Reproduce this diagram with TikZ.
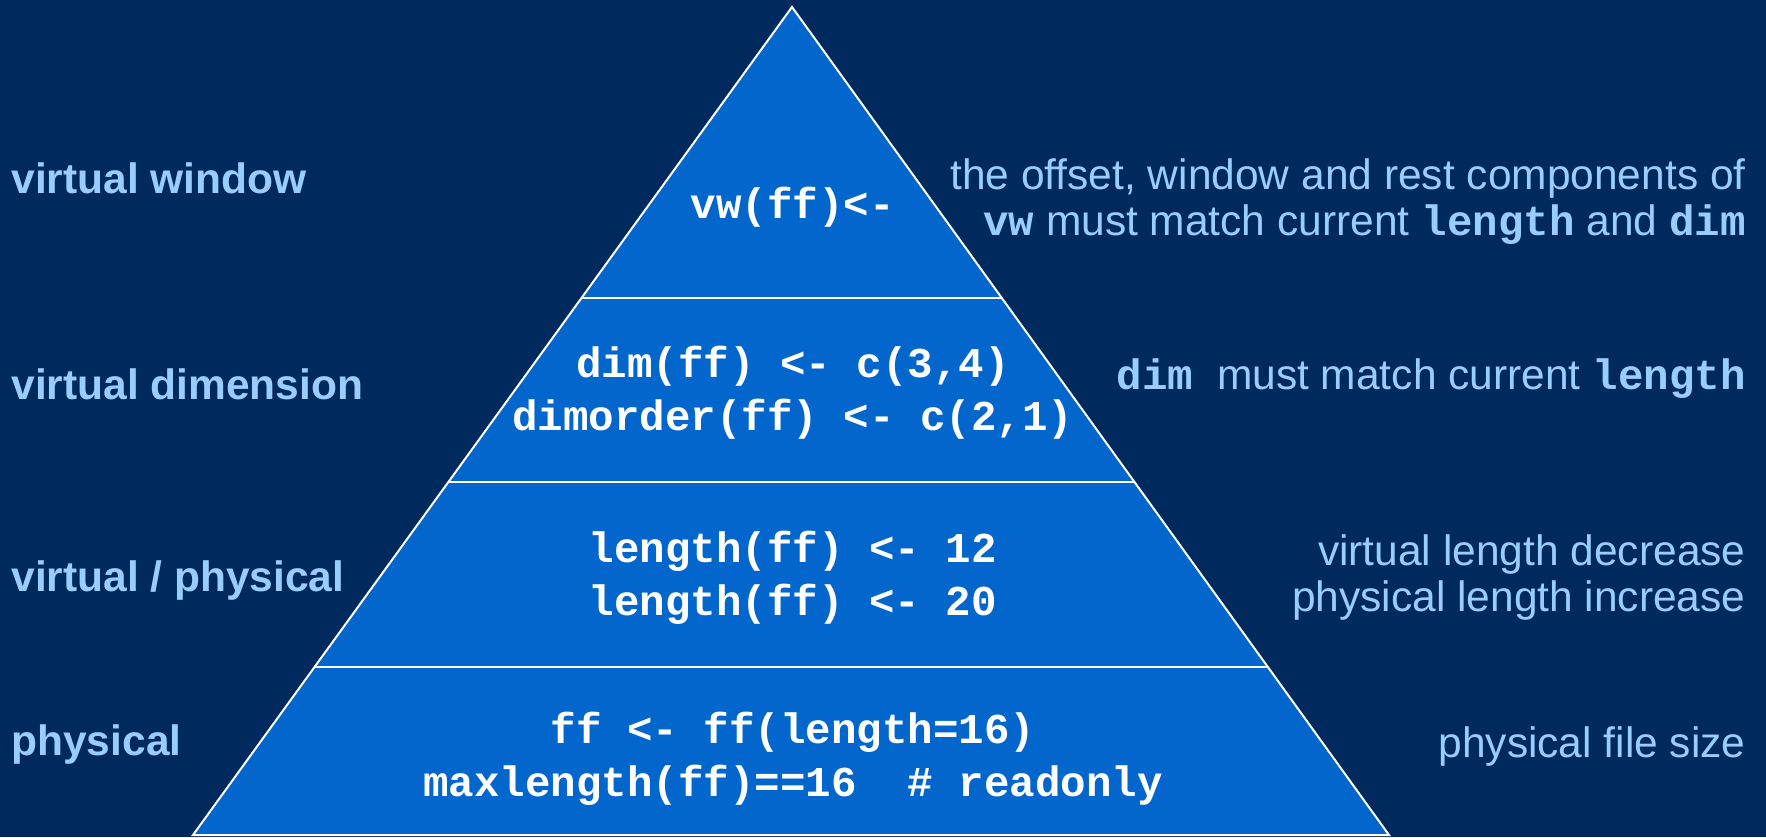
\documentclass[tikz,border=0pt]{standalone}
\usepackage{fontspec}
\setmainfont{Liberation Sans}
\setmonofont{Liberation Mono}
\usetikzlibrary{calc}

\definecolor{navybg}{RGB}{0,42,94}
\definecolor{pyrblue}{RGB}{3,102,204}
\definecolor{lightblue}{RGB}{153,204,255}

\newcommand{\slidefont}{\fontsize{21.25}{23}\selectfont}
\newcommand{\codefont}{\fontsize{21.25}{26.5}\selectfont}
\newcommand{\cw}[1]{\texttt{\bfseries #1}}

\tikzset{
  levelname/.style={anchor=base west, inner sep=0pt, text=lightblue, font=\slidefont\bfseries},
  remark/.style={anchor=base east, inner sep=0pt, text=lightblue, font=\slidefont, align=right},
  rcode/.style={anchor=base, inner sep=0pt, text=white, font=\codefont\ttfamily\bfseries, align=center},
}

\begin{document}
\begin{tikzpicture}[x=0.5pt, y=-0.5pt]
  % Background
  \fill[navybg] (0,0) rectangle (1766,837);

  % Pyramid
  \coordinate (top) at (792,7);
  \coordinate (bl) at (193,835);
  \coordinate (br) at (1389,835);
  \fill[pyrblue] (top) -- (bl) -- (br) -- cycle;
  \draw[white, line width=1pt] (top) -- (bl) -- (br) -- cycle;

  % Level borders
  \foreach \f/\n in {0.3514/1, 0.5737/2, 0.7971/3}{
    \coordinate (l\n) at ($(top)!\f!(bl)$);
    \coordinate (r\n) at ($(top)!\f!(br)$);
    \draw[white, line width=1pt] (l\n) -- (r\n);
  }

  % Level names
  \node[levelname] (vwin) at (11,193) {virtual window};
  \node[levelname] (vdim) at (11,399) {virtual dimension};
  \node[levelname] (vphys) at (11,591) {virtual / physical};
  \node[levelname] (phys) at (11,755) {physical};

  % R code inside the pyramid (y = baseline of last line)
  \node[rcode] (cwin) at (793,218) {vw(ff)<-};
  \node[rcode] (cdim) at (793,430) {dim(ff) <- c(3,4)\\dimorder(ff) <- c(2,1)};
  \node[rcode] (clen) at (793,615) {length(ff) <- 12\\length(ff) <- 20};
  \node[rcode] (cphys) at (793,796) {ff <- ff(length=16)\\maxlength(ff)==16~~\# readonly};

  % Remarks
  \node[remark] (rwin) at (1746,235) {the offset, window and rest components of\\\cw{vw} must match current \cw{length} and \cw{dim}};
  \node[remark] (rdim) at (1746,389) {\cw{dim}~~must match current \cw{length}};
  \node[remark] (rlen) at (1746,611) {virtual length decrease\\physical length increase};
  \node[remark] (rphys) at (1746,757) {physical file size};
\end{tikzpicture}
\end{document}
